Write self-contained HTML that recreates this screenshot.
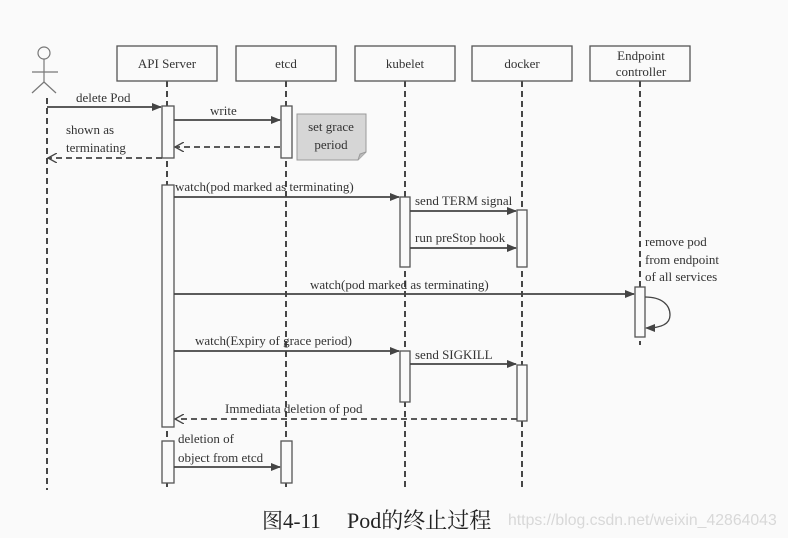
<!DOCTYPE html>
<html><head><meta charset="utf-8"><style>
html,body{margin:0;padding:0;background:#fafafa;}
svg{display:block}
text{font-family:"Liberation Serif","Noto Serif CJK SC",serif;font-size:13px;fill:#333}
</style></head><body>
<svg width="788" height="538" viewBox="0 0 788 538" xmlns="http://www.w3.org/2000/svg">
<defs>
<marker id="a" markerWidth="10" markerHeight="8" refX="9" refY="4" orient="auto" markerUnits="userSpaceOnUse"><path d="M0,0 L10,4 L0,8 z" fill="#444"/></marker>
<marker id="o" markerWidth="10" markerHeight="10" refX="9" refY="5" orient="auto" markerUnits="userSpaceOnUse"><path d="M0,0 L9,5 L0,10" fill="none" stroke="#444" stroke-width="1.3"/></marker>
</defs>
<rect width="788" height="538" fill="#fafafa"/>
<g stroke="#333" stroke-width="1.8" stroke-dasharray="6,4" fill="none">
<line x1="47" y1="98" x2="47" y2="490"/>
<line x1="167" y1="81" x2="167" y2="490"/>
<line x1="286" y1="81" x2="286" y2="490"/>
<line x1="405" y1="81" x2="405" y2="490"/>
<line x1="522" y1="81" x2="522" y2="490"/>
<line x1="640" y1="81" x2="640" y2="345"/>
</g>
<g stroke="#777" stroke-width="1.2" fill="none">
<circle cx="44" cy="53" r="6"/>
<line x1="44" y1="59" x2="44" y2="82"/>
<line x1="32" y1="72" x2="58" y2="72"/>
<line x1="44" y1="82" x2="32" y2="93"/>
<line x1="44" y1="82" x2="56" y2="93"/>
</g>
<g fill="#fafafa" stroke="#555" stroke-width="1.3">
<rect x="117" y="46" width="100" height="35"/>
<rect x="236" y="46" width="100" height="35"/>
<rect x="355" y="46" width="100" height="35"/>
<rect x="472" y="46" width="100" height="35"/>
<rect x="590" y="46" width="100" height="35"/>
</g>
<text x="167" y="68" text-anchor="middle">API Server</text>
<text x="286" y="68" text-anchor="middle">etcd</text>
<text x="405" y="68" text-anchor="middle">kubelet</text>
<text x="522" y="68" text-anchor="middle">docker</text>
<text x="641" y="60" text-anchor="middle">Endpoint</text>
<text x="641" y="76" text-anchor="middle">controller</text>
<g fill="#fafafa" stroke="#555" stroke-width="1.3">
<rect x="162" y="106" width="12" height="52"/>
<rect x="281" y="106" width="11" height="52"/>
<rect x="162" y="185" width="12" height="242"/>
<rect x="400" y="197" width="10" height="70"/>
<rect x="517" y="210" width="10" height="57"/>
<rect x="635" y="287" width="10" height="50"/>
<rect x="400" y="351" width="10" height="51"/>
<rect x="517" y="365" width="10" height="56"/>
<rect x="162" y="441" width="12" height="42"/>
<rect x="281" y="441" width="11" height="42"/>
</g>
<path d="M297,114 L366,114 L366,152 L358,160 L297,160 z" fill="#d6d6d6" stroke="#999"/>
<path d="M358,160 L360,154 L366,152" fill="#bbb" stroke="#999"/>
<text x="331" y="131" text-anchor="middle">set grace</text>
<text x="331" y="149" text-anchor="middle">period</text>
<g stroke="#444" stroke-width="1.8" fill="none">
<line x1="47" y1="107" x2="161" y2="107" marker-end="url(#a)"/>
<line x1="174" y1="120" x2="280" y2="120" marker-end="url(#a)"/>
<line x1="280" y1="147" x2="175" y2="147" stroke-dasharray="6,4" marker-end="url(#o)"/>
<line x1="162" y1="158" x2="48" y2="158" stroke-dasharray="6,4" marker-end="url(#o)"/>
<line x1="174" y1="197" x2="399" y2="197" marker-end="url(#a)"/>
<line x1="410" y1="211" x2="516" y2="211" marker-end="url(#a)"/>
<line x1="410" y1="248" x2="516" y2="248" marker-end="url(#a)"/>
<line x1="174" y1="294" x2="634" y2="294" marker-end="url(#a)"/>
<path d="M645,297 C662,297 670,305 670,315 C670,324 662,328 646,328" marker-end="url(#a)" stroke-width="1.3"/>
<line x1="174" y1="351" x2="399" y2="351" marker-end="url(#a)"/>
<line x1="410" y1="364" x2="516" y2="364" marker-end="url(#a)"/>
<line x1="517" y1="419" x2="175" y2="419" stroke-dasharray="6,4" marker-end="url(#o)"/>
<line x1="174" y1="467" x2="280" y2="467" marker-end="url(#a)"/>
</g>
<text x="76" y="102">delete Pod</text>
<text x="210" y="115">write</text>
<text x="66" y="134">shown as</text>
<text x="66" y="152">terminating</text>
<text x="175" y="191">watch(pod marked as terminating)</text>
<text x="415" y="205">send TERM signal</text>
<text x="415" y="242">run preStop hook</text>
<text x="645" y="246">remove pod</text>
<text x="645" y="264">from endpoint</text>
<text x="645" y="281">of all services</text>
<text x="310" y="289">watch(pod marked as terminating)</text>
<text x="195" y="345">watch(Expiry of grace period)</text>
<text x="415" y="359">send SIGKILL</text>
<text x="225" y="413">Immediata deletion of pod</text>
<text x="178" y="443">deletion of</text>
<text x="178" y="462">object from etcd</text>
<text x="262" y="528" style="font-size:21px;fill:#222">图4-11</text>
<text x="347" y="528" style="font-size:22px;fill:#222">Pod的终止过程</text>
<text x="508" y="525" style="font-family:'Liberation Sans',sans-serif;font-size:15.8px;fill:#d8d8d8">https://blog.csdn.net/weixin_42864043</text>
</svg>
</body></html>
